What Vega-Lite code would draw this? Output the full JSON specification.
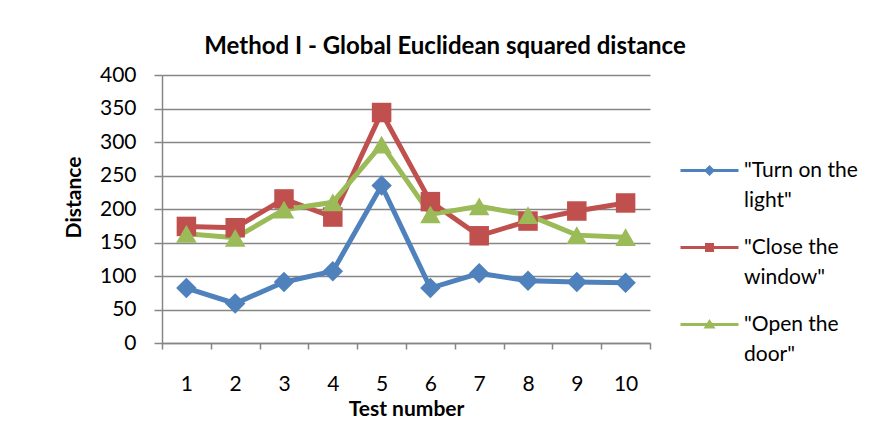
{
  "$schema": "https://vega.github.io/schema/vega-lite/v6.json",
  "autosize": "none",
  "width": 488,
  "height": 268,
  "padding": {"left": 162, "top": 75, "right": 226, "bottom": 95},
  "background": "white",
  "title": {
    "text": "Method I - Global Euclidean squared distance",
    "font": "Lato",
    "fontSize": 24,
    "fontWeight": "bold",
    "color": "#000000",
    "anchor": "middle",
    "dx": 39,
    "offset": 5
  },
  "config": {
    "view": {"stroke": null},
    "axis": {
      "labelFont": "Lato",
      "labelFontSize": 21,
      "labelColor": "#000000",
      "titleFont": "Lato",
      "titleFontSize": 21,
      "titleFontWeight": "bold",
      "titleColor": "#000000",
      "domainColor": "#868686",
      "domainWidth": 1.5,
      "tickColor": "#868686",
      "tickWidth": 1.5,
      "gridColor": "#868686",
      "gridWidth": 1.5
    }
  },
  "data": {
    "values": [
      {"series": "\"Turn on the light\"", "test": 1, "distance": 82},
      {"series": "\"Turn on the light\"", "test": 2, "distance": 59},
      {"series": "\"Turn on the light\"", "test": 3, "distance": 91},
      {"series": "\"Turn on the light\"", "test": 4, "distance": 107},
      {"series": "\"Turn on the light\"", "test": 5, "distance": 235},
      {"series": "\"Turn on the light\"", "test": 6, "distance": 82},
      {"series": "\"Turn on the light\"", "test": 7, "distance": 104},
      {"series": "\"Turn on the light\"", "test": 8, "distance": 93},
      {"series": "\"Turn on the light\"", "test": 9, "distance": 91},
      {"series": "\"Turn on the light\"", "test": 10, "distance": 90},
      {"series": "\"Close the window\"", "test": 1, "distance": 174},
      {"series": "\"Close the window\"", "test": 2, "distance": 172},
      {"series": "\"Close the window\"", "test": 3, "distance": 215},
      {"series": "\"Close the window\"", "test": 4, "distance": 188},
      {"series": "\"Close the window\"", "test": 5, "distance": 344},
      {"series": "\"Close the window\"", "test": 6, "distance": 211},
      {"series": "\"Close the window\"", "test": 7, "distance": 160},
      {"series": "\"Close the window\"", "test": 8, "distance": 182},
      {"series": "\"Close the window\"", "test": 9, "distance": 197},
      {"series": "\"Close the window\"", "test": 10, "distance": 209},
      {"series": "\"Open the door\"", "test": 1, "distance": 163},
      {"series": "\"Open the door\"", "test": 2, "distance": 157},
      {"series": "\"Open the door\"", "test": 3, "distance": 199},
      {"series": "\"Open the door\"", "test": 4, "distance": 210},
      {"series": "\"Open the door\"", "test": 5, "distance": 296},
      {"series": "\"Open the door\"", "test": 6, "distance": 192},
      {"series": "\"Open the door\"", "test": 7, "distance": 204},
      {"series": "\"Open the door\"", "test": 8, "distance": 191},
      {"series": "\"Open the door\"", "test": 9, "distance": 161},
      {"series": "\"Open the door\"", "test": 10, "distance": 158}
    ]
  },
  "encoding": {
    "x": {
      "field": "test",
      "type": "ordinal",
      "scale": {"type": "band", "paddingInner": 0, "paddingOuter": 0},
      "axis": {
        "title": "Test number",
        "labelAngle": 0,
        "grid": false,
        "tickBand": "extent",
        "tickSize": 6,
        "labelPadding": 24,
        "titlePadding": 4
      }
    },
    "y": {
      "field": "distance",
      "type": "quantitative",
      "scale": {"domain": [0, 400], "nice": false},
      "axis": {
        "title": "Distance",
        "values": [0, 50, 100, 150, 200, 250, 300, 350, 400],
        "tickSize": 8,
        "labelPadding": 18,
        "titlePadding": 15,
        "titleY": 122
      }
    },
    "color": {
      "field": "series",
      "type": "nominal",
      "scale": {
        "domain": ["\"Turn on the light\"", "\"Close the window\"", "\"Open the door\""],
        "range": ["#4F81BD", "#C0504D", "#9BBB59"]
      },
      "legend": {
        "title": null,
        "orient": "none",
        "legendX": 518,
        "legendY": 85,
        "labelFont": "Lato",
        "labelFontSize": 21,
        "labelColor": "#000000",
        "labelOffset": 43,
        "labelLimit": 300,
        "symbolSize": 400,
        "symbolStrokeWidth": 0,
        "rowPadding": 25,
        "labelExpr": "[slice(datum.label, 0, lastindexof(datum.label, ' ')), slice(datum.label, lastindexof(datum.label, ' ') + 1)]",
        "encode": {
          "labels": {"update": {"lineHeight": {"value": 30}}},
          "symbols": {
            "update": {
              "shape": {"signal": "indexof(datum.value, 'Turn') >= 0 ? 'M-1,-0.15H4.8V0.15H-1ZM1.9,-0.55L2.45,0L1.9,0.55L1.35,0Z' : indexof(datum.value, 'Close') >= 0 ? 'M-1,-0.15H4.8V0.15H-1ZM1.45,-0.45H2.35V0.45H1.45Z' : 'M-1,-0.15H4.8V0.15H-1ZM1.9,-0.55L2.5,0.4H1.3Z'"},
              "fill": {"signal": "scale('color', datum.value)"},
              "strokeWidth": {"value": 0}
            }
          }
        }
      }
    }
  },
  "layer": [
    {
      "mark": {"type": "line", "strokeWidth": 5}
    },
    {
      "transform": [{"filter": "indexof(datum.series, 'Turn') >= 0"}],
      "mark": {"type": "point", "filled": true, "opacity": 1, "size": 420, "shape": "diamond"}
    },
    {
      "transform": [{"filter": "indexof(datum.series, 'Close') >= 0"}],
      "mark": {"type": "point", "filled": true, "opacity": 1, "size": 380, "shape": "square"}
    },
    {
      "transform": [{"filter": "indexof(datum.series, 'Open') >= 0"}],
      "mark": {"type": "point", "filled": true, "opacity": 1, "size": 420, "shape": "triangle-up"}
    }
  ]
}
